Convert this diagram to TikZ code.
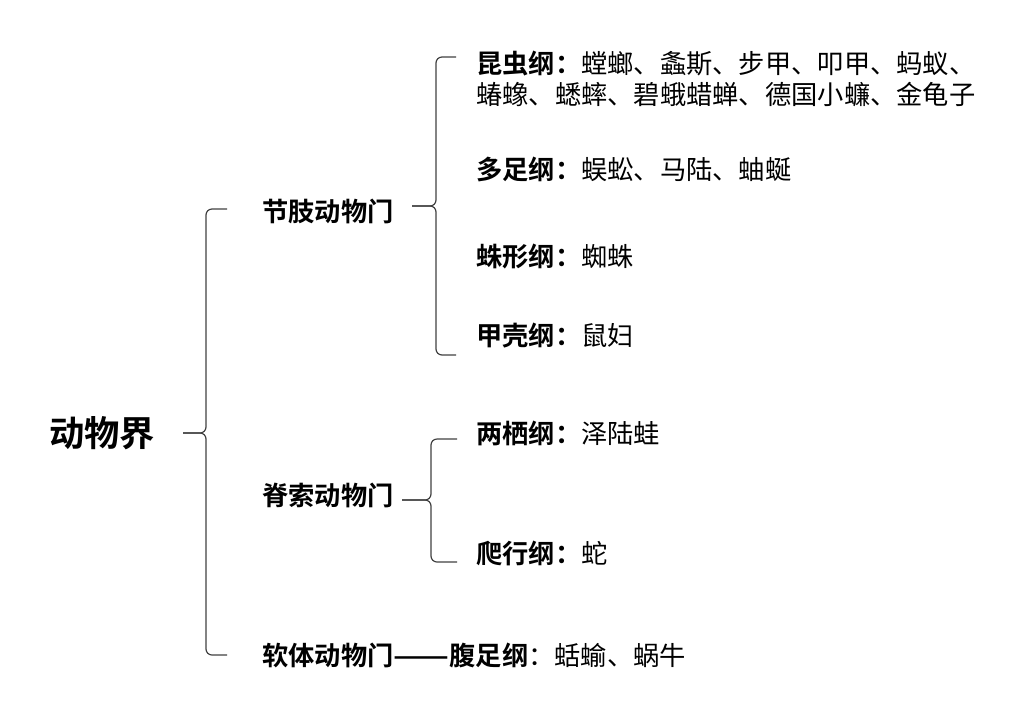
\documentclass[tikz,border=0pt]{standalone}
\usepackage{fontspec}
\newfontfamily\cjk[BoldFont={Noto Sans CJK SC Bold}]{Noto Sans CJK SC}

\begin{document}
\begin{tikzpicture}[x=0.75pt,y=-0.75pt,
  brc/.style={draw=black!75,line width=0.9pt,rounded corners=4.5pt},
  root/.style={anchor=west,inner sep=0pt,font=\cjk\bfseries\fontsize{26.5}{30}\selectfont},
  taxon/.style={anchor=west,inner sep=0pt,align=left,font=\cjk\fontsize{19.7}{23.3}\selectfont}]
\useasboundingbox (0,0) rectangle (1020,719);
% kingdom and phyla
\node[root] (kingdom) at (49,433) {动物界};
\node[taxon] (arth) at (262,211) {\textbf{节肢动物门}};
\node[taxon] (chord) at (262,495) {\textbf{脊索动物门}};
\node[taxon] (moll) at (262,655) {\textbf{软体动物门\scalebox{1.25}[1]{——}腹足纲}：蛞蝓、蜗牛};
% classes
\node[taxon] (insect) at (476,78.5) {\textbf{昆虫纲：}螳螂、螽斯、步甲、叩甲、蚂蚁、\\蝽蟓、蟋蟀、碧蛾蜡蝉、德国小蠊、金龟子};
\node[taxon] (myria) at (476,169) {\textbf{多足纲：}蜈蚣、马陆、蚰蜒};
\node[taxon] (arach) at (476,257) {\textbf{蛛形纲：}蜘蛛};
\node[taxon] (crust) at (476,336) {\textbf{甲壳纲：}鼠妇};
\node[taxon] (amphi) at (476,433) {\textbf{两栖纲：}泽陆蛙};
\node[taxon] (rept) at (476,553) {\textbf{爬行纲：}蛇};
% brace tips and ends
\coordinate (kt) at (183,433);
\coordinate (k1) at (227,209);
\coordinate (k2) at (227,655);
\coordinate (at) at (412,206);
\coordinate (a1) at (456,57);
\coordinate (a2) at (456,355);
\coordinate (ct) at (402,500);
\coordinate (c1) at (457,439);
\coordinate (c2) at (457,562);
% braces
\draw[brc] (k1) -- (206,209) -- (206,433) -- (kt);
\draw[brc] (k2) -- (206,655) -- (206,433) -- (kt);
\draw[brc] (a1) -- (436,57) -- (436,206) -- (at);
\draw[brc] (a2) -- (436,355) -- (436,206) -- (at);
\draw[brc] (c1) -- (431,439) -- (431,500) -- (ct);
\draw[brc] (c2) -- (431,562) -- (431,500) -- (ct);
\end{tikzpicture}
\end{document}
